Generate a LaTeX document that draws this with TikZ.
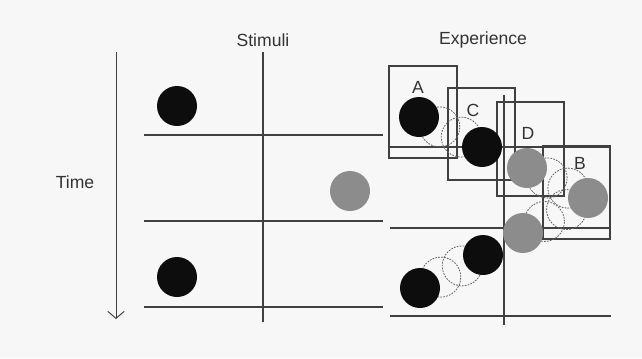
\documentclass[tikz,border=0pt]{standalone}
\usepackage{fontspec}
\setmainfont{Liberation Sans}
\usetikzlibrary{arrows.meta,calc}
\begin{document}
\begin{tikzpicture}[x=0.03cm,y=-0.03cm,
    rule/.style={draw=black!75,line width=1pt},
    frame/.style={draw=black!75,line width=1pt},
    dot/.style={circle,minimum size=1.2cm,inner sep=0pt},
    full/.style={dot,fill=black!95},
    grey/.style={dot,fill=black!45},
    ghost/.style={dot,draw=black!60,line width=0.7pt,dash pattern=on 1.5pt off 1pt},
    lbl/.style={font=\fontsize{15}{18}\selectfont,text=black!80}]
	\fill[black!3] (0,0) rectangle (642,358);
	\useasboundingbox (0,0) rectangle (642,358);

	% headings
	\node[lbl] (stimuli) at (263,40) {Stimuli};
	\node[lbl] (experience) at (483,40) {Experience};
	\node[lbl] (time) at (75,182) {Time};

	% time axis
	\coordinate (t0) at (116,52);
	\coordinate (t1) at (116,319);
	\draw[rule,line width=0.8pt,-{Straight Barb[length=6pt,width=14pt]}] (t0) -- (t1);

	% stimuli grid
	\draw[rule] (263,52) -- (263,322);
	\foreach \y in {135,221,307}
		\draw[rule] (144,\y) -- (383,\y);
	\node[full] (s1) at (177,106) {};
	\node[grey] (s2) at (350,191) {};
	\node[full] (s3) at (177,277) {};

	% experience grid and frames
	\foreach \y in {147,228,316}
		\draw[rule] (390,\y) -- (611,\y);
	\draw[rule] (504,95) -- (504,325);
	\draw[frame] (389,66) rectangle (457,158);
	\draw[frame] (448,88) rectangle (515,180);
	\draw[frame] (497,102) rectangle (564,196);
	\draw[frame] (543,146) rectangle (610,239);
	\node[lbl] (la) at (418,87) {A};
	\node[lbl] (lc) at (473,110) {C};
	\node[lbl] (ld) at (528,133) {D};
	\node[lbl] (lb) at (580,163) {B};

	% experienced positions
	\coordinate (pa) at (419,117);
	\coordinate (pc) at (482,147);
	\coordinate (pd) at (527,168);
	\coordinate (pb) at (588,198);
	\coordinate (pe) at (523,233);
	\coordinate (pf) at (483,255);
	\coordinate (pg) at (420,288);
	\foreach \p/\q [count=\i] in {pa/pc,pd/pb,pb/pe,pf/pg}
		\foreach \t [count=\j] in {0.33,0.67}
			\node[ghost] (g\i\j) at ($(\p)!\t!(\q)$) {};
	\node[full] (ea) at (pa) {};
	\node[full] (ec) at (pc) {};
	\node[grey] (ed) at (pd) {};
	\node[grey] (eb) at (pb) {};
	\node[grey] (ee) at (pe) {};
	\node[full] (ef) at (pf) {};
	\node[full] (eg) at (pg) {};
\end{tikzpicture}
\end{document}
